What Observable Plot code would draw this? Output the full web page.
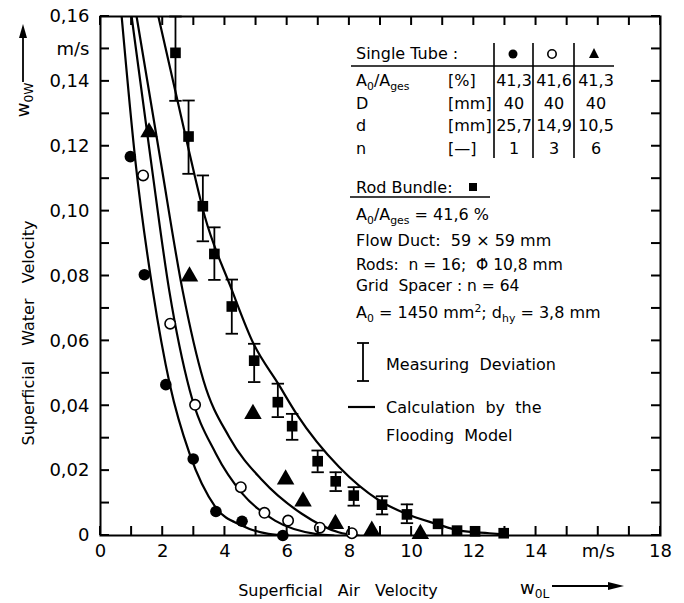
<!DOCTYPE html>
<html><head><meta charset="utf-8">
<script src="https://cdn.jsdelivr.net/npm/d3@7"></script>
<script src="https://cdn.jsdelivr.net/npm/@observablehq/plot@0.6"></script>
<style>
body{margin:0;background:#fff;}
#chart{width:684px;height:603px;}
</style></head><body><div id="chart"></div>
<script>
// ---- measured points (single tube, filled circles) ----
const fcX = [0.96,1.41,2.10,2.98,3.71,4.55,5.86];
const fcY = [0.1168,0.0804,0.0465,0.0236,0.0074,0.0044,0.0];
// open circles
const ocX = [1.37,2.24,3.04,4.51,5.27,6.03,7.05,8.08];
const ocY = [0.111,0.0653,0.0403,0.0149,0.0070,0.0046,0.0024,0.0007];
// triangles
const trX = [1.56,2.86,4.90,5.95,6.51,7.55,8.72,10.28];
const trY = [0.1243,0.0799,0.0375,0.0173,0.0105,0.0036,0.0015,0.0005];
// rod bundle squares
const sqX = [2.41,2.83,3.29,3.66,4.22,4.94,5.70,6.16,6.98,7.56,8.14,9.05,9.85,10.85,11.46,12.04,12.96];
const sqY = [0.1488,0.1230,0.1015,0.0868,0.0706,0.0539,0.0411,0.0337,0.0229,0.0167,0.0123,0.0095,0.0065,0.0036,0.0015,0.0013,0.0007];
// measuring deviation of the first squares
const errLo = [0.134,0.1115,0.0907,0.0788,0.0622,0.0473,0.0365,0.0295,0.0195,0.0137,0.0092,0.0065,0.0038];
const errHi = [0.160,0.1341,0.1110,0.0950,0.0789,0.0591,0.0468,0.0375,0.0262,0.0195,0.0149,0.0121,0.0096];
// calculation by the flooding model
const calcAX = [0.68,1.12,1.68,2.23,2.86,3.70,4.54,5.40,6.05];
const calcAY = [0.16,0.1156,0.0755,0.0465,0.0253,0.0087,0.0031,0.0005,0];
const calcBX = [1.00,1.62,2.21,2.87,3.71,4.56,5.61,6.90,7.5];
const calcBY = [0.16,0.1156,0.0755,0.0447,0.0252,0.0129,0.0046,0.0005,0];
const calcCX = [1.16,1.93,2.64,3.31,4.14,5.20,6.47,7.65,8.3];
const calcCY = [0.16,0.1156,0.0755,0.0478,0.0303,0.0170,0.0067,0.0010,0];
const calcDX = [1.86,2.84,3.36,4.19,4.92,5.71,6.30,7.67,8.96,9.82,10.79,11.54,12.5,13.0];
const calcDY = [0.16,0.1187,0.0981,0.0765,0.0591,0.0468,0.0375,0.0211,0.0108,0.0067,0.0036,0.0015,0.0007,0.0003];
// tick labels
const xTickValues = [0,2,4,6,8,10,12,14,16,18];
const xTickLabels = ["0","2","4","6","8","10","12","14","m/s","18"];
const yTickValues = [0,0.02,0.04,0.06,0.08,0.10,0.12,0.14,0.15,0.16];
const yTickLabels = ["0","0,02","0,04","0,06","0,08","0,10","0,12","0,14","m/s","0,16"];
// legend table texts
const tubeRowNames = [[["A"],["0","sub"],["/A"],["ges","sub"]], [["D"]], [["d"]], [["n"]]];
const tubeRowUnits = ["[%]","[mm]","[mm]","[\u2014]"];
const tubeValues = [["41,3","41,6","41,3"],["40","40","40"],["25,7","14,9","10,5"],["1","3","6"]];

const FONT = '"DejaVu Sans", sans-serif';
const W = 684, H = 603, MT = 16, MB = 68, ML = 100, MR = 24, TICK = 9;
const zip = (xs, ys) => xs.map((x, i) => ({x, y: ys[i]}));
const lines = [zip(calcAX,calcAY), zip(calcBX,calcBY), zip(calcCX,calcCY), zip(calcDX,calcDY)];
const errs = errLo.map((lo, i) => ({x: sqX[i], lo, hi: errHi[i]}));
const capSymbol = {draw(ctx, size) { const w = Math.sqrt(size) / 2; ctx.moveTo(-w, 0); ctx.lineTo(w, 0); }};
const xLab = new Map(xTickValues.map((v, i) => [v, xTickLabels[i]]));
const yLab = new Map(yTickValues.map((v, i) => [v, yTickLabels[i]]));
const xMinor = d3.range(19);
const yMinor = d3.range(17).map(i => i / 100);

const svg = Plot.plot({
  width: W, height: H,
  marginTop: MT, marginBottom: MB, marginLeft: ML, marginRight: MR,
  x: {domain: [0, 18]},
  y: {domain: [0, 0.16]},
  style: {fontFamily: FONT, fontSize: "17px", color: "#000", background: "#fff", overflow: "visible"},
  marks: [
    Plot.axisX({anchor: "bottom", ticks: xTickValues, tickSize: 0, tickPadding: 9, tickFormat: d => xLab.get(d), label: null, fontSize: 18}),
    Plot.axisY({anchor: "left", ticks: yTickValues, tickSize: 0, tickPadding: 11, tickFormat: d => yLab.get(d), label: null, fontSize: 18}),
    Plot.frame({stroke: "#000", strokeWidth: 2}),
    ...lines.map(L => Plot.line(L, {x: "x", y: "y", curve: "monotone-x", stroke: "#000", strokeWidth: 2.2, clip: true})),
    Plot.ruleX(errs, {x: "x", y1: "lo", y2: "hi", stroke: "#000", strokeWidth: 1.8}),
    Plot.dot(errs, {x: "x", y: "lo", symbol: capSymbol, r: 7, stroke: "#000", strokeWidth: 1.8, fill: "none"}),
    Plot.dot(errs, {x: "x", y: "hi", symbol: capSymbol, r: 7, stroke: "#000", strokeWidth: 1.8, fill: "none"}),
    Plot.dot(zip(fcX, fcY), {x: "x", y: "y", r: 5.8, fill: "#000", stroke: "none"}),
    Plot.dot(zip(ocX, ocY), {x: "x", y: "y", r: 5.2, fill: "#fff", stroke: "#000", strokeWidth: 1.6}),
    Plot.dot(zip(trX, trY), {x: "x", y: "y", symbol: "triangle", r: 6.5, fill: "#000", stroke: "none"}),
    Plot.dot(zip(sqX, sqY), {x: "x", y: "y", symbol: "square", r: 6, fill: "#000", stroke: "none"})
  ]
});
document.getElementById("chart").appendChild(svg);

// ---- annotations / legend overlay ----
const g = d3.select(svg).append("g").attr("font-family", FONT).attr("font-size", 16).attr("fill", "#000");
const seg = (ax, ay, bx, by, w = 1.6) => g.append("line").attr("x1", ax).attr("y1", ay).attr("x2", bx).attr("y2", by).attr("stroke", "#000").attr("stroke-width", w);

// inward ticks on all four sides, placed with Plot's own scales
const sxScale = svg.scale("x"), syScale = svg.scale("y");
const frameL = ML, frameR = W - MR, frameB = H - MB, frameT = MT;
const tg = g.append("g").attr("stroke", "#000").attr("stroke-width", 2);
xMinor.forEach(v => {
  const px = sxScale.apply(v);
  tg.append("line").attr("x1", px).attr("x2", px).attr("y1", frameB).attr("y2", frameB - TICK);
  tg.append("line").attr("x1", px).attr("x2", px).attr("y1", frameT).attr("y2", frameT + TICK);
});
yMinor.forEach(v => {
  const py = syScale.apply(v);
  tg.append("line").attr("x1", frameL).attr("x2", frameL + TICK).attr("y1", py).attr("y2", py);
  tg.append("line").attr("x1", frameR).attr("x2", frameR - TICK).attr("y1", py).attr("y2", py);
});

function rich(x, y, parts, anchor = "start", size = 16, extra = {}) {
  const t = g.append("text").attr("x", x).attr("y", y).attr("text-anchor", anchor).attr("font-size", size);
  for (const k in extra) t.attr(k, extra[k]);
  let shift = 0;
  for (const p of parts) {
    const [s, kind] = Array.isArray(p) ? p : [p];
    const target = kind === "sub" ? 4 : kind === "sup" ? -6 : 0;
    const ts = t.append("tspan").text(s);
    if (target - shift) ts.attr("dy", target - shift);
    if (kind) ts.attr("font-size", size * 0.68);
    shift = target;
  }
  return t;
}

// Single tube table
rich(356, 59, ["Single Tube :"]);
seg(351, 66, 614, 66, 1.6);
[494, 533, 574].forEach(x => seg(x, 43, x, 158, 1.6));
g.append("circle").attr("cx", 513).attr("cy", 54).attr("r", 4.5).attr("fill", "#000");
g.append("circle").attr("cx", 552).attr("cy", 54).attr("r", 4.2).attr("fill", "#fff").attr("stroke", "#000").attr("stroke-width", 1.6);
g.append("path").attr("d", "M594,48 L599,58 L589,58 Z").attr("fill", "#000");
const rowY = [86, 109, 131, 154];
rowY.forEach((y, i) => {
  rich(356, y, tubeRowNames[i]);
  rich(448, y, [tubeRowUnits[i]]);
  rich(514, y, [tubeValues[i][0]], "middle");
  rich(554, y, [tubeValues[i][1]], "middle");
  rich(596, y, [tubeValues[i][2]], "middle");
});

// Rod bundle block
rich(356, 193, ["Rod Bundle:"]);
g.append("rect").attr("x", 469).attr("y", 183).attr("width", 8).attr("height", 8).attr("fill", "#000");
seg(350, 197, 490, 197, 1.6);
rich(356, 220, [["A"],["0","sub"],["/A"],["ges","sub"],[" = 41,6 %"]]);
rich(356, 246, ["Flow Duct:  59 \u00d7 59 mm"]);
rich(356, 270, ["Rods:  n = 16;  \u03a6\u0307 10,8 mm"], "start", 15.5);
rich(356, 291, ["Grid  Spacer : n = 64"], "start", 15.5);
rich(356, 318, [["A"],["0","sub"],[" = 1450 mm"],["2","sup"],["; d"],["hy","sub"],[" = 3,8 mm"]]);

// Measuring deviation
seg(363, 343, 363, 381, 1.8);
seg(357, 343, 369, 343, 1.8);
seg(357, 381, 369, 381, 1.8);
rich(386, 370, ["Measuring  Deviation"]);
seg(348, 407, 375, 407, 2.2);
rich(386, 413, ["Calculation  by  the"]);
rich(386, 441, ["Flooding  Model"]);

// Axis titles
rich(338, 596, ["Superficial   Air   Velocity"], "middle", 16);
g.append("text").attr("transform", "translate(34,333) rotate(-90)").attr("text-anchor", "middle").attr("font-size", 16).text("Superficial   Water   Velocity");
// w0W with arrow (rotated)
rich(0, 0, [["w"], ["0W", "sub"]], "middle", 18, {transform: "translate(29,100) rotate(-90)"});
seg(23, 82, 23, 34, 1.8);
g.append("path").attr("d", "M23,24 L27,38 L19,38 Z").attr("fill", "#000");
// w0L with arrow
rich(520, 594, [["w"], ["0L", "sub"]], "start", 18);
seg(552, 586, 612, 586, 1.8);
g.append("path").attr("d", "M624,586 L608,582 L608,590 Z").attr("fill", "#000");
</script></body></html>
